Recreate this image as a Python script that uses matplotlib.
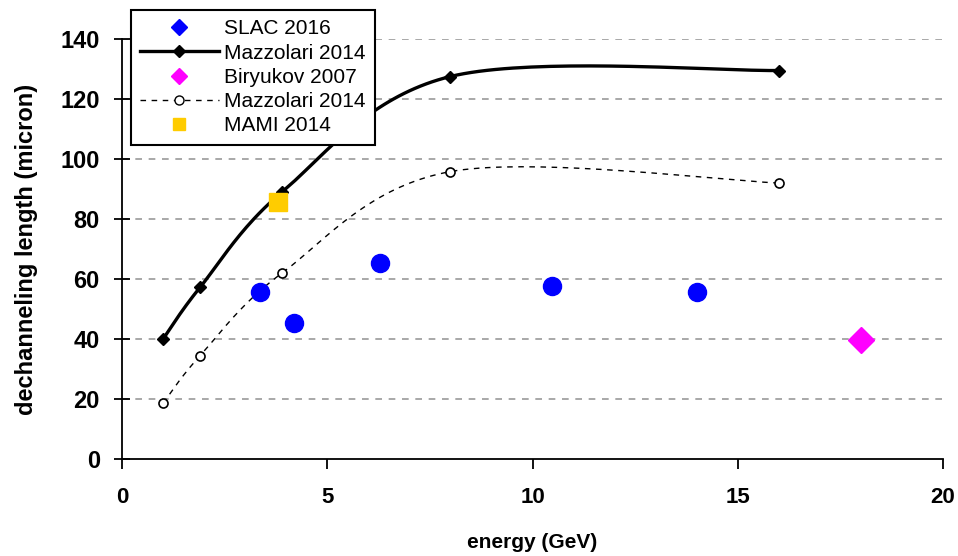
import numpy as np
import matplotlib
matplotlib.use("Agg")
from matplotlib import pyplot as plt
from matplotlib.lines import Line2D

# data
maz_energy = [1.0, 1.9, 3.9, 8.0, 16.0]
maz_solid = [40, 57.2, 89, 127.5, 129.5]
maz_dashed = [18.6, 34.4, 62, 95.8, 92]

slac_energy = [3.36, 4.19, 6.28, 10.48, 14.0]
slac_len = [55.8, 45.2, 65.3, 57.8, 55.8]

bir_energy = [18.0]
bir_len = [39.7]

mami_energy = [3.8]
mami_len = [85.7]

yticks = [0, 20, 40, 60, 80, 100, 120, 140]
xticks = [0, 5, 10, 15, 20]


def smooth(ax, xs, ys, n=40):
    # excel-like smoothed line: catmull-rom beziers in display space
    pts = ax.transData.transform(np.column_stack([xs, ys]))
    out = []
    for i in range(len(pts) - 1):
        p0 = pts[i - 1] if i > 0 else pts[i]
        p1, p2 = pts[i], pts[i + 1]
        p3 = pts[i + 2] if i + 2 < len(pts) else pts[i + 1]
        c1 = p1 + (p2 - p0) / 6
        c2 = p2 - (p3 - p1) / 6
        t = np.linspace(0, 1, n)[:, None]
        seg = ((1 - t) ** 3) * p1 + 3 * ((1 - t) ** 2) * t * c1 \
            + 3 * (1 - t) * t ** 2 * c2 + t ** 3 * p2
        out.append(seg if i == 0 else seg[1:])
    out = ax.transData.inverted().transform(np.vstack(out))
    return out[:, 0], out[:, 1]


plt.rcParams['font.family'] = ['Liberation Sans', 'DejaVu Sans']

fig = plt.figure(figsize=(9.58, 5.56), dpi=100)
ax = fig.add_axes([122 / 958, 1 - 459 / 556, (943 - 122) / 958, (459 - 39) / 556])
ax.set_xlim(0, 20)
ax.set_ylim(0, 140)

for y in yticks[1:]:
    ax.axhline(y, color='#999999', lw=1.2, ls=(0, (4, 4)), zorder=0)

sx, sy = smooth(ax, maz_energy, maz_solid)
ax.plot(sx, sy, color='black', lw=2.4, zorder=2)
ax.plot(maz_energy, maz_solid, ls='none', marker='D', ms=6, color='black', zorder=3)

dx, dy = smooth(ax, maz_energy, maz_dashed)
ax.plot(dx, dy, color='black', lw=1, ls=(0, (4, 4)), zorder=2)
ax.plot(maz_energy, maz_dashed, ls='none', marker='o', ms=6.5, mfc='white',
        mec='black', mew=1.2, zorder=3)

ax.plot(slac_energy, slac_len, ls='none', marker='o', ms=13, color='#0000FF', zorder=4)
ax.plot(bir_energy, bir_len, ls='none', marker='D', ms=13, color='#FF00FF', zorder=4)
ax.plot(mami_energy, mami_len, ls='none', marker='s', ms=13, color='#FFCC00', zorder=4)

for s in ['top', 'right']:
    ax.spines[s].set_visible(False)
for s in ['left', 'bottom']:
    ax.spines[s].set_linewidth(1.3)

ax.set_yticks(yticks)
ax.set_xticks(xticks)
ax.tick_params(axis='y', direction='inout', length=12, width=1.3, labelsize=17, pad=10)
ax.tick_params(axis='x', direction='out', length=7, width=1.3, labelsize=16, pad=13)
for lab in ax.get_xticklabels() + ax.get_yticklabels():
    lab.set_fontweight('bold')

ax.set_xlabel('energy (GeV)', fontsize=15, fontweight='bold', labelpad=18)
ax.set_ylabel('dechanneling length (micron)', fontsize=17, fontweight='bold', labelpad=16)

handles = [
    Line2D([], [], ls='none', marker='D', ms=8, color='#0000FF'),
    Line2D([], [], color='black', lw=2.4, marker='D', ms=6),
    Line2D([], [], ls='none', marker='D', ms=8, color='#FF00FF'),
    Line2D([], [], color='black', lw=1, ls=(0, (4, 4)), marker='o', ms=6.5, mfc='white'),
    Line2D([], [], ls='none', marker='s', ms=8, color='#FFCC00'),
]
labels = ['SLAC 2016', 'Mazzolari 2014', 'Biryukov 2007', 'Mazzolari 2014', 'MAMI 2014']
leg = fig.legend(handles, labels, loc='upper left', bbox_to_anchor=(131 / 958, 1 - 10 / 556),
                 prop={'size': 15}, frameon=True, fancybox=False, edgecolor='black',
                 framealpha=1, handlelength=3.75, handletextpad=0.25, labelspacing=0.25,
                 borderpad=0.45, borderaxespad=0)
leg.get_frame().set_linewidth(1.5)

fig.savefig('out.png', dpi=100)
